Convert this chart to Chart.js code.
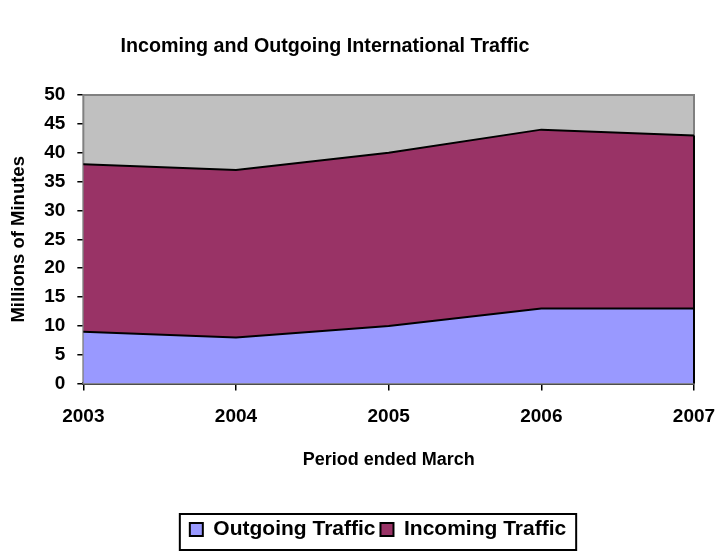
<!DOCTYPE html>
<html>
<head>
<meta charset="utf-8">
<script src="https://cdn.jsdelivr.net/npm/chart.js@4"></script>
<style>
  html, body { margin: 0; padding: 0; background: #fff; }
</style>
</head>
<body>
<canvas id="traffic" width="718" height="555"></canvas>
<script>
var years = ['2003', '2004', '2005', '2006', '2007'];
var outgoingTraffic = [9, 8, 10, 13, 13];
var incomingTraffic = [29, 29, 30, 31, 30];
var yMin = 0, yMax = 50, yStep = 5;

var FONT = '"Liberation Sans", Arial, sans-serif';

// grey plot area with thin grey frame, like the Excel original
var plotBackground = {
    id: 'plotBackground',
    beforeDatasetsDraw: function(chart) {
        var a = chart.chartArea, ctx = chart.ctx;
        ctx.save();
        ctx.fillStyle = '#C0C0C0';
        ctx.fillRect(a.left, a.top, a.right - a.left, a.bottom - a.top);
        ctx.strokeStyle = '#808080';
        ctx.lineWidth = 2;
        ctx.strokeRect(a.left, a.top, a.right - a.left, a.bottom - a.top);
        ctx.restore();
    },
    // black edge closing the stacked areas on the right side
    afterDatasetsDraw: function(chart) {
        var x = chart.scales.x, y = chart.scales.y, ctx = chart.ctx;
        var last = years.length - 1;
        var px = x.getPixelForValue(last);
        ctx.save();
        ctx.strokeStyle = '#000';
        ctx.lineWidth = 2;
        ctx.beginPath();
        ctx.moveTo(px, y.getPixelForValue(0));
        ctx.lineTo(px, y.getPixelForValue(outgoingTraffic[last] + incomingTraffic[last]));
        ctx.stroke();
        ctx.restore();
    }
};

var chartTitle = {
    id: 'chartTitle',
    afterDraw: function(chart) {
        var ctx = chart.ctx;
        ctx.save();
        ctx.font = 'bold 19.7px ' + FONT;
        ctx.fillStyle = '#000';
        ctx.textAlign = 'center';
        ctx.textBaseline = 'middle';
        ctx.fillText('Incoming and Outgoing International Traffic', 325, 47);
        ctx.restore();
    }
};

// nudge legend right and draw its frame
var legendFrame = {
    id: 'legendFrame',
    afterLayout: function(chart) {
        chart.legend.left += 15;
        chart.legend.right += 15;
    },
    afterDraw: function(chart) {
        var boxes = chart.legend.legendHitBoxes;
        if (!boxes || !boxes.length) return;
        var l = Infinity, r = -Infinity;
        boxes.forEach(function(b) {
            l = Math.min(l, b.left);
            r = Math.max(r, b.left + b.width);
        });
        var ctx = chart.ctx;
        ctx.save();
        ctx.strokeStyle = '#000';
        ctx.lineWidth = 2;
        ctx.strokeRect(l - 10, chart.legend.top, r - l + 20, chart.legend.bottom - chart.legend.top);
        ctx.restore();
    }
};

new Chart(document.getElementById('traffic'), {
    type: 'line',
    data: {
        labels: years,
        datasets: [{
            label: 'Outgoing Traffic',
            data: outgoingTraffic,
            backgroundColor: '#9999FF',
            borderColor: '#000',
            borderWidth: 2,
            fill: 'origin',
            pointRadius: 0,
            tension: 0
        }, {
            label: 'Incoming Traffic',
            data: incomingTraffic,
            backgroundColor: '#993366',
            borderColor: '#000',
            borderWidth: 2,
            fill: '-1',
            pointRadius: 0,
            tension: 0
        }]
    },
    options: {
        responsive: false,
        animation: false,
        layout: { padding: { top: 95, right: 0, left: 8, bottom: 5 } },
        scales: {
            x: {
                offset: false,
                afterFit: function(scale) { scale.paddingRight = 24; },
                grid: { drawOnChartArea: false, color: '#000', tickLength: 7, lineWidth: 1.5 },
                border: { color: '#000', width: 3 },
                ticks: { color: '#000', font: { family: FONT, size: 19, weight: 'bold' }, padding: 15, maxRotation: 0 },
                title: { display: true, text: 'Period ended March', color: '#000',
                         font: { family: FONT, size: 18, weight: 'bold' }, padding: { top: 6, bottom: 43 } }
            },
            y: {
                stacked: true,
                min: yMin,
                max: yMax,
                grid: { drawOnChartArea: false, color: '#000', tickLength: 6, lineWidth: 1.5 },
                border: { color: '#000', width: 1.5 },
                ticks: { stepSize: yStep, color: '#000', font: { family: FONT, size: 19, weight: 'bold' }, padding: 12 },
                title: { display: true, text: 'Millions of Minutes', color: '#000',
                         font: { family: FONT, size: 18.5, weight: 'bold' }, padding: { top: 0, bottom: 2 } }
            }
        },
        plugins: {
            title: { display: false },
            tooltip: { enabled: false },
            legend: {
                position: 'bottom',
                labels: {
                    color: '#000',
                    font: { family: FONT, size: 21, weight: 'bold', lineHeight: 0.6 },
                    boxWidth: 13,
                    boxHeight: 13,
                    padding: 5
                }
            }
        }
    },
    plugins: [plotBackground, chartTitle, legendFrame]
});
</script>
</body>
</html>
